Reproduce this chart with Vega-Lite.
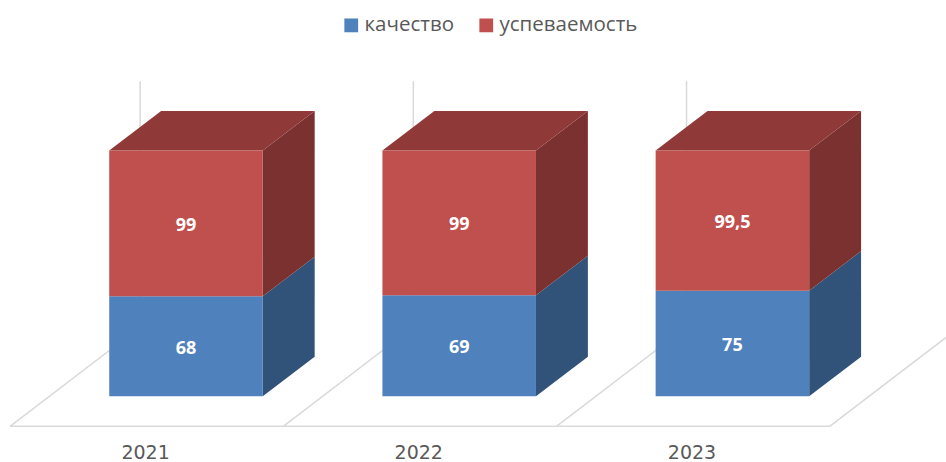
{
"$schema":"https://vega.github.io/schema/vega-lite/v6.json",
"width":946,"height":462,"padding":0,
"autosize":{"type":"none"},
"background":"white",
"config":{"view":{"stroke":null}},
"data":{"values":[
{"year":2021,"series":"качество","value":68},
{"year":2021,"series":"успеваемость","value":99},
{"year":2022,"series":"качество","value":69},
{"year":2022,"series":"успеваемость","value":99},
{"year":2023,"series":"качество","value":75},
{"year":2023,"series":"успеваемость","value":99.5}
]},
"transform":[
{"stack":"value","groupby":["year"],"sort":[{"field":"series","order":"ascending"}],"offset":"normalize","as":["n0","n1"]},
{"calculate":"datum.n0*100","as":"s0"},
{"calculate":"datum.n1*100","as":"s1"},
{"calculate":"datum.year-2021","as":"c"},
{"calculate":"replace(datum.value+'','.',',')","as":"label"}
],
"resolve":{"scale":{"color":"independent"}},
"layer":[
{"transform":[{"filter":"datum.series=='качество'"},{"calculate":"datum.c-0.644","as":"fl"},{"calculate":"datum.c+0.356","as":"fr"},{"calculate":"-12.2","as":"fy"}],
 "mark":{"type":"rule","color":"#d9d9d9","strokeWidth":1.5,"clip":true},
 "encoding":{
  "x":{"field":"fl","type":"quantitative","axis":null,"scale":{"domain":[-0.6808,2.7818],"nice":false,"zero":false}},
  "x2":{"field":"fr"},
  "y":{"field":"fy","type":"quantitative","axis":null,"scale":{"domain":[-26.73,161.23],"nice":false,"zero":false}}
 }},
{"transform":[{"filter":"datum.series=='качество'"},{"calculate":"datum.c-0.644","as":"dx0"},{"calculate":"datum.c-0.168","as":"dx1"},{"calculate":"-12.2","as":"dy0"},{"calculate":"28.2","as":"dy1"}],
 "mark":{"type":"rule","color":"#d9d9d9","strokeWidth":1.5,"clip":true},
 "encoding":{"x":{"field":"dx0","type":"quantitative"},"x2":{"field":"dx1"},"y":{"field":"dy0","type":"quantitative"},"y2":{"field":"dy1"}}},
{"transform":[{"filter":"datum.series=='качество'&&datum.year==2023"},{"calculate":"datum.c+0.356","as":"dx0"},{"calculate":"datum.c+0.832","as":"dx1"},{"calculate":"-12.2","as":"dy0"},{"calculate":"28.2","as":"dy1"}],
 "mark":{"type":"rule","color":"#d9d9d9","strokeWidth":1.5,"clip":true},
 "encoding":{"x":{"field":"dx0","type":"quantitative"},"x2":{"field":"dx1"},"y":{"field":"dy0","type":"quantitative"},"y2":{"field":"dy1"}}},
{"transform":[{"filter":"datum.series=='качество'"},{"calculate":"datum.c-0.168","as":"wx"},{"calculate":"28.2","as":"w0"},{"calculate":"128.2","as":"w1"}],
 "mark":{"type":"rule","color":"#d9d9d9","strokeWidth":1.5},
 "encoding":{"x":{"field":"wx","type":"quantitative"},"y":{"field":"w0","type":"quantitative"},"y2":{"field":"w1"}}},
{"transform":[{"calculate":"[0,1]","as":"t"},{"flatten":["t"]},{"calculate":"datum.c+0.281+datum.t*0.19","as":"sx"},{"calculate":"datum.s0+datum.t*16.1","as":"sb"},{"calculate":"datum.s1+datum.t*16.1","as":"st"}],
 "mark":{"type":"area","interpolate":"linear","opacity":1},
 "encoding":{
  "x":{"field":"sx","type":"quantitative"},
  "y":{"field":"sb","type":"quantitative"},
  "y2":{"field":"st"},
  "detail":{"field":"year"},
  "color":{"field":"series","type":"nominal","legend":null,"scale":{"domain":["качество","успеваемость"],"range":["#325379","#7b3130"]}}
 }},
{"transform":[{"filter":"datum.series=='успеваемость'"},{"calculate":"[0,1]","as":"t"},{"flatten":["t"]},{"calculate":"datum.c-0.281+datum.t*0.19","as":"tl"},{"calculate":"datum.c+0.281+datum.t*0.19","as":"tr"},{"calculate":"datum.s1+datum.t*16.1","as":"ty"}],
 "mark":{"type":"area","orient":"horizontal","interpolate":"linear","color":"#8f3938"},
 "encoding":{
  "y":{"field":"ty","type":"quantitative"},
  "x":{"field":"tl","type":"quantitative"},
  "x2":{"field":"tr"},
  "detail":{"field":"year"}
 }},
{"transform":[{"calculate":"datum.c-0.281","as":"bl"},{"calculate":"datum.c+0.281","as":"br"}],
 "mark":{"type":"rect"},
 "encoding":{
  "x":{"field":"bl","type":"quantitative"},
  "x2":{"field":"br"},
  "y":{"field":"s0","type":"quantitative"},
  "y2":{"field":"s1"},
  "color":{"field":"series","type":"nominal","title":null,
   "scale":{"domain":["качество","успеваемость"],"range":["#4f81bd","#c0504d"]},
   "legend":{"orient":"none","legendX":341,"legendY":15,"direction":"horizontal","symbolType":"square","symbolSize":190,"symbolStrokeWidth":0,"labelFontSize":20.5,"labelFont":"Open Sans","labelColor":"#595959","labelOffset":3,"columnPadding":21}}
 }},
{"transform":[{"calculate":"(datum.s0+datum.s1)/2","as":"sm"}],
 "mark":{"type":"text","color":"white","font":"Open Sans","fontWeight":"bold","fontSize":18,"align":"center","baseline":"middle","dy":2.5},
 "encoding":{
  "x":{"field":"c","type":"quantitative"},
  "y":{"field":"sm","type":"quantitative"},
  "text":{"field":"label","type":"nominal"}
 }},
{"transform":[{"filter":"datum.series=='качество'"},{"calculate":"datum.c-0.148","as":"yx"},{"calculate":"-23.2","as":"yy"}],
 "mark":{"type":"text","color":"#595959","font":"DejaVu Sans","fontSize":19,"align":"center","baseline":"middle"},
 "encoding":{
  "x":{"field":"yx","type":"quantitative"},
  "y":{"field":"yy","type":"quantitative"},
  "text":{"field":"year","type":"nominal"}
 }}
]
}
